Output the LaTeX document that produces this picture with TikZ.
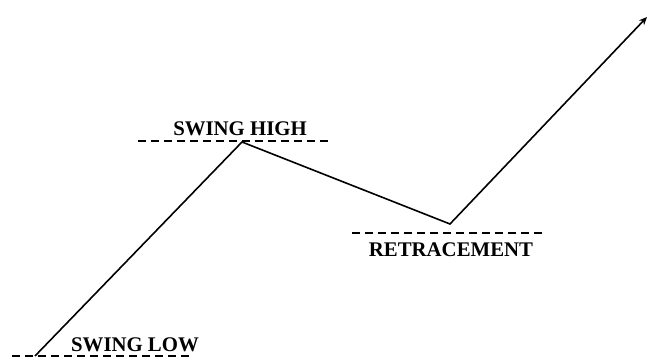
\documentclass[tikz,border=0pt]{standalone}
\usepackage{fontspec}
\setmainfont{Liberation Serif}
\usetikzlibrary{arrows.meta}
\begin{document}
\begin{tikzpicture}[x=1pt,y=-1pt,
  level/.style={line width=2.2pt,dash pattern=on 8pt off 5pt},
  price/.style={line width=1.6pt},
  lbl/.style={font=\fontsize{20.8}{22}\selectfont\bfseries,inner sep=0pt}]
\useasboundingbox (0,0) rectangle (649,363);
% turning points of the price path
\coordinate (low) at (35,356);
\coordinate (high) at (242,142);
\coordinate (retr) at (450,224);
\coordinate (end) at (647,17);
% horizontal reference levels
\coordinate (l1) at (12,356);  \coordinate (l2) at (191,356);
\coordinate (h1) at (138,141); \coordinate (h2) at (331,141);
\coordinate (r1) at (352,233); \coordinate (r2) at (546,233);
\draw[level] (l1) -- (l2);
\draw[level] (h1) -- (h2);
\draw[level] (r1) -- (r2);
% price path
\draw[price,-{Stealth[length=8pt,width=7pt]}] (low) -- (high) -- (retr) -- (end);
% labels
\node[lbl] (tlow) at (135,345) {SWING LOW};
\node[lbl] (thigh) at (240,129) {SWING HIGH};
\node[lbl] (tretr) at (451,250) {RETRACEMENT};
\end{tikzpicture}
\end{document}
